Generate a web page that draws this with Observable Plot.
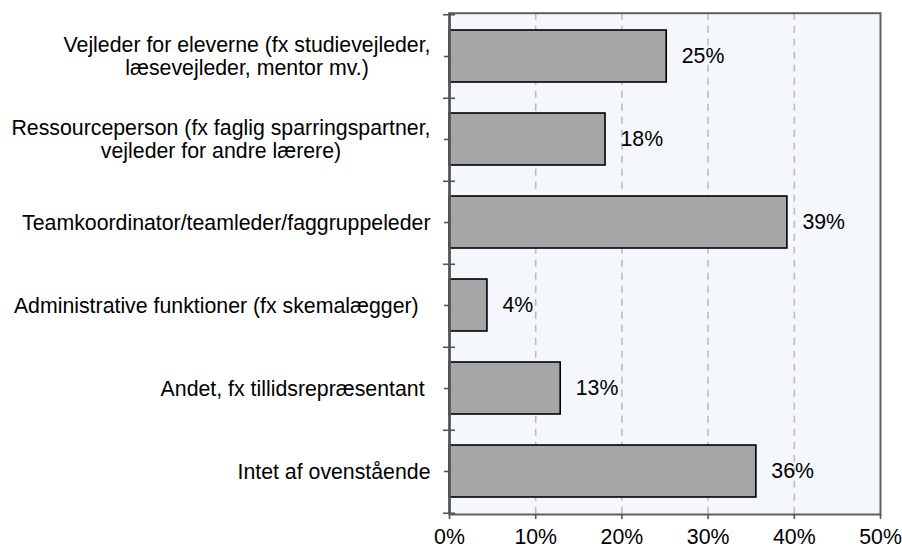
<!DOCTYPE html>
<html><head><meta charset="utf-8">
<script src="https://cdn.jsdelivr.net/npm/d3@7"></script>
<script src="https://cdn.jsdelivr.net/npm/@observablehq/plot@0.6"></script>
<style>
body{margin:0;background:#fff;}
#chart svg{display:block;}
</style>
</head><body><div id="chart"></div>
<script>
const categories = [
  "Vejleder for eleverne (fx studievejleder, læsevejleder, mentor mv.)",
  "Ressourceperson (fx faglig sparringspartner, vejleder for andre lærere)",
  "Teamkoordinator/teamleder/faggruppeleder",
  "Administrative funktioner (fx skemalægger)",
  "Andet, fx tillidsrepræsentant",
  "Intet af ovenstående"
];
const labelLines = [
  ["Vejleder for eleverne (fx studievejleder,", "læsevejleder, mentor mv.)"],
  ["Ressourceperson (fx faglig sparringspartner,", "vejleder for andre lærere)"],
  ["Teamkoordinator/teamleder/faggruppeleder"],
  ["Administrative funktioner (fx skemalægger)\u00a0\u00a0"],
  ["Andet, fx tillidsrepræsentant\u00a0"],
  ["Intet af ovenstående"]
];
const values = [25.2, 18.1, 39.2, 4.4, 12.9, 35.6];
const valueLabels = ["25%", "18%", "39%", "4%", "13%", "36%"];
const xTicks = [0, 10, 20, 30, 40, 50];
const gridTicks = [10, 20, 30, 40];

const data = categories.map((c, i) => ({cat: c, value: values[i], label: valueLabels[i], lines: labelLines[i]}));

const W = 902, H = 548;
const mTop = 12.7, mBottom = 34, mLeft = 449, mRight = 22;
const step = (H - mTop - mBottom) / categories.length;
const font = "'Liberation Sans', Arial, Helvetica, sans-serif";
const fs = 21.3;

const ctx = document.createElement("canvas").getContext("2d");
ctx.font = `${fs}px ${font}`;
const labelGap = 19;

const labelMarks = data.map(d => {
  const w = d3.max(d.lines, l => ctx.measureText(l).width);
  return Plot.text([d], {
    frameAnchor: "left", y: "cat",
    text: r => r.lines.join("\n"),
    textAnchor: "middle", lineAnchor: "middle", lineHeight: 1.05,
    dx: -(labelGap + w / 2), fill: "#000", fontSize: fs
  });
});

const chart = Plot.plot({
  width: W, height: H,
  marginTop: mTop, marginBottom: mBottom, marginLeft: mLeft, marginRight: mRight,
  style: {fontFamily: font, fontSize: fs + "px", background: "#fff", color: "#000"},
  x: {domain: [0, 50], label: null},
  y: {domain: categories, paddingInner: 0.375, paddingOuter: 0.1875, label: null},
  marks: [
    Plot.frame({fill: "#f4f7fb", stroke: null}),
    Plot.gridX(gridTicks, {stroke: "#bdbdbd", strokeOpacity: 1, strokeWidth: 1.6, strokeDasharray: "7,6"}),
    Plot.barX(data, {x: "value", y: "cat", fill: "#a6a6a6", stroke: "#000", strokeWidth: 1.6}),
    Plot.frame({stroke: "#5f5f5f", strokeWidth: 2}),
    Plot.ruleX([0], {stroke: "#555", strokeWidth: 2.6}),
    Plot.axisX(xTicks, {tickSize: 5, tickPadding: 9, tickFormat: d => d + "%", stroke: "#555", strokeWidth: 1.6, fontSize: fs, fill: "#000", label: null}),
    Plot.axisY(categories, {tickSize: 5, tickFormat: () => "", stroke: "#555", strokeWidth: 1.6, label: null}),
    Plot.axisY(categories, {tickSize: 12, dx: 6, dy: step / 2, tickFormat: () => "", stroke: "#555", strokeWidth: 1.6, label: null}),
    Plot.axisY([categories[0]], {tickSize: 12, dx: 6, dy: -step / 2, tickFormat: () => "", stroke: "#555", strokeWidth: 1.6, label: null}),
    Plot.text(data, {x: "value", y: "cat", text: "label", dx: 15, textAnchor: "start", fill: "#000", fontSize: fs}),
    ...labelMarks
  ]
});
document.getElementById("chart").append(chart);
</script>
</body></html>
